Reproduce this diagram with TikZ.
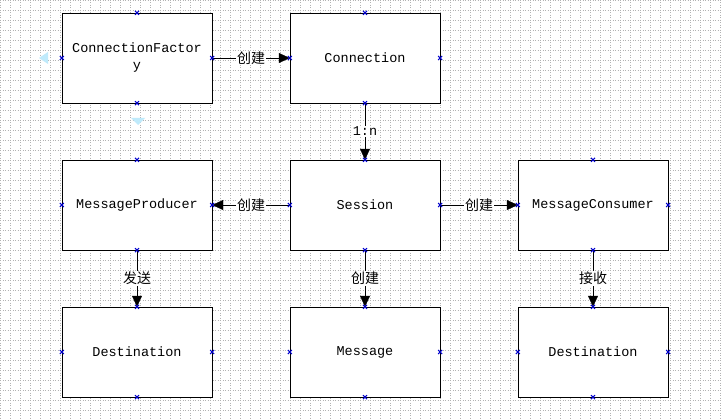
\documentclass[tikz,border=0pt]{standalone}
\usepackage{fontspec}
\setmainfont{Liberation Mono}
\newfontfamily\cjk{Noto Sans CJK SC}
\usetikzlibrary{arrows.meta}
\begin{document}
\begin{tikzpicture}[x=1pt,y=-1pt,
 box/.style={draw,fill=white,minimum width=150pt,minimum height=90pt,inner sep=0pt,font=\fontsize{13.5}{17}\selectfont,align=center},
 arr/.style={-{Triangle[length=11pt,width=10pt]},thin},
 lab/.style={fill=white,inner sep=1pt,font=\cjk\fontsize{14}{16}\selectfont},
 mk/.style={blue!80!black,line width=1pt}]
\fill[white] (0,0) rectangle (721,420);
\useasboundingbox (0,0) rectangle (721,420);
\foreach \i in {0,10,...,720} \draw[gray!60,dotted,line width=0.5pt] (\i,0) -- (\i,420);
\foreach \j in {0,10,...,420} \draw[gray!60,dotted,line width=0.5pt] (0,\j) -- (721,\j);
\node[box] (cf) at (137,58) {ConnectionFactor\\y};
\node[box] (c) at (365,58) {Connection};
\node[box] (mp) at (137,205) {MessageProducer};
\node[box] (s) at (365,205) {Session};
\node[box] (mc) at (593,205) {MessageConsumer};
\node[box] (d1) at (137,352) {Destination};
\node[box] (m) at (365,352) {Message};
\node[box] (d2) at (593,352) {Destination};
\draw[arr] (cf.east) -- node[lab]{创建} (c.west);
\draw[arr] (c.south) -- node[lab,font=\fontsize{13.5}{16}\selectfont]{1:n} (s.north);
\draw[arr] (s.west) -- node[lab]{创建} (mp.east);
\draw[arr] (s.east) -- node[lab]{创建} (mc.west);
\draw[arr] (mp.south) -- node[lab]{发送} (d1.north);
\draw[arr] (s.south) -- node[lab]{创建} (m.north);
\draw[arr] (mc.south) -- node[lab]{接收} (d2.north);
\foreach \n in {cf,c,mp,s,mc,d1,m,d2}
 \foreach \a in {north,south,east,west}
  \draw[mk] ([shift={(-2,-2)}]\n.\a) -- ([shift={(2,2)}]\n.\a) ([shift={(-2,2)}]\n.\a) -- ([shift={(2,-2)}]\n.\a);
\fill[cyan!25] (39,58) -- (48,52) -- (48,64) -- cycle;
\fill[cyan!25] (131,118) -- (145,118) -- (138,125) -- cycle;
\end{tikzpicture}
\end{document}
